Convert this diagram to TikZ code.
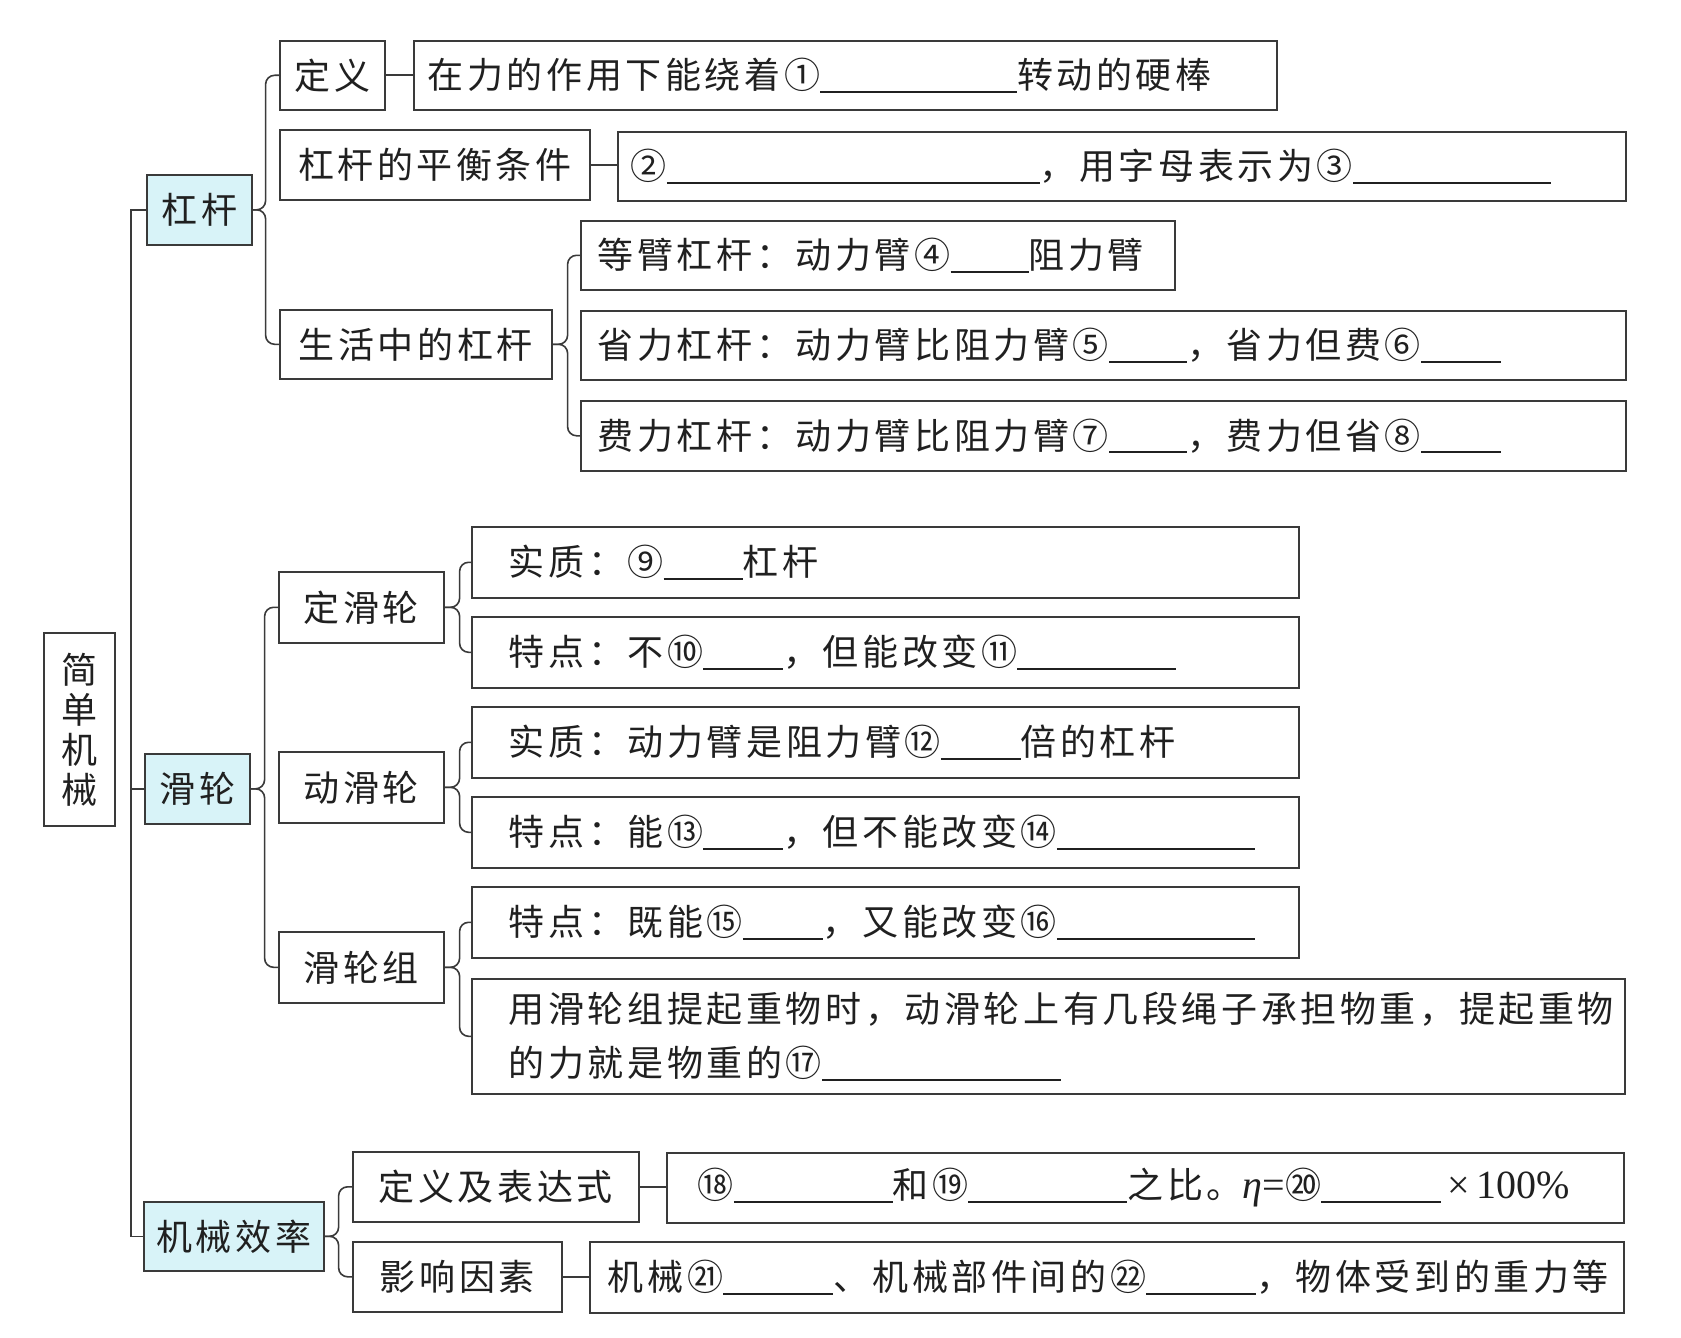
\documentclass[tikz,border=0pt]{standalone}
\usepackage{fontspec}
\newfontfamily\cjk[LetterSpace=10]{Noto Sans CJK SC}
\newfontfamily\tms{Liberation Serif}
\usetikzlibrary{calc}
\definecolor{lc}{HTML}{3A3A3A}
\definecolor{tc}{HTML}{202020}
\definecolor{cy}{HTML}{D8F3F8}
\newcommand{\fillblank}[1]{\rule[-4pt]{#1pt}{1.6pt}}
\newcommand{\tmsx}[1]{{\tms\fontsize{40}{40}\selectfont #1}}
\tikzset{
  bx/.style={draw=lc, line width=1.6pt, fill=white, inner sep=0pt, anchor=north west,
    text=tc, font=\cjk\fontsize{36}{40}\selectfont},
  hub/.style={bx, fill=cy},
  lt/.style={align=left, text width=#1},
  conn/.style={draw=lc, line width=1.6pt},
  brace/.style={conn, rounded corners=9pt}
}
\begin{document}
\begin{tikzpicture}[x=1pt,y=-1pt]
\useasboundingbox[fill=white] (0,0) rectangle (1681,1338);
% root
\node[bx, minimum width=71, minimum height=193, align=center] (jd) at (43,632) {简\\单\\机\\械};
% hubs
\node[hub, minimum width=105, minimum height=70] (gg) at (146,174) {杠杆};
\node[hub, minimum width=105, minimum height=70] (hl) at (144,753) {滑轮};
\node[hub, minimum width=180, minimum height=69] (jx) at (143,1201) {机械效率};
% level 2 labels
\node[bx, minimum width=105, minimum height=69] (dy) at (279,40) {定义};
\node[bx, minimum width=310, minimum height=70] (ph) at (279,129) {杠杆的平衡条件};
\node[bx, minimum width=272, minimum height=69] (sh) at (279,309) {生活中的杠杆};
\node[bx, minimum width=165, minimum height=71] (dh) at (278,571) {定滑轮};
\node[bx, minimum width=165, minimum height=71] (dd) at (278,751) {动滑轮};
\node[bx, minimum width=165, minimum height=71] (zu) at (278,931) {滑轮组};
\node[bx, minimum width=286, minimum height=70] (dyb) at (352,1151) {定义及表达式};
\node[bx, minimum width=209, minimum height=70] (yx) at (352,1241) {影响因素};
% content boxes
\node[bx, lt=835, minimum width=863, minimum height=69] (dyt) at (413,40)
  {在力的作用下能绕着①\fillblank{197}转动的硬棒};
\node[bx, lt=982, minimum width=1008, minimum height=69] (pht) at (617,131)
  {②\fillblank{373}，用字母表示为③\fillblank{198}};
\node[bx, lt=560, minimum width=594, minimum height=69] (db) at (580,220)
  {等臂杠杆：动力臂④\fillblank{78}阻力臂};
\node[bx, lt=1011, minimum width=1045, minimum height=69] (sl) at (580,310)
  {省力杠杆：动力臂比阻力臂⑤\fillblank{78}，省力但费⑥\fillblank{80}};
\node[bx, lt=1011, minimum width=1045, minimum height=70] (fl) at (580,400)
  {费力杠杆：动力臂比阻力臂⑦\fillblank{78}，费力但省⑧\fillblank{80}};
\node[bx, lt=787, minimum width=827, minimum height=71] (dh1) at (471,526)
  {\hspace*{17pt}实质：⑨\fillblank{79}杠杆};
\node[bx, lt=787, minimum width=827, minimum height=71] (dh2) at (471,616)
  {\hspace*{17pt}特点：不⑩\fillblank{80}，但能改变⑪\fillblank{159}};
\node[bx, lt=787, minimum width=827, minimum height=71] (dd1) at (471,706)
  {\hspace*{17pt}实质：动力臂是阻力臂⑫\fillblank{80}倍的杠杆};
\node[bx, lt=787, minimum width=827, minimum height=71] (dd2) at (471,796)
  {\hspace*{17pt}特点：能⑬\fillblank{80}，但不能改变⑭\fillblank{198}};
\node[bx, lt=787, minimum width=827, minimum height=71] (zu1) at (471,886)
  {\hspace*{17pt}特点：既能⑮\fillblank{80}，又能改变⑯\fillblank{198}};
\node[bx, lt=1121, minimum width=1153, minimum height=115, font=\cjk\fontsize{36}{54}\selectfont] (zu2) at (471,978)
  {\hspace*{21pt}用滑轮组提起重物时，动滑轮上有几段绳子承担物重，提起重物\\
   \hspace*{21pt}的力就是物重的⑰\fillblank{239}};
\node[bx, lt=927, minimum width=957, minimum height=70] (dybt) at (666,1152)
  {\hspace*{16pt}⑱\fillblank{159}和⑲\fillblank{159}之比。\tmsx{\itshape η}\tmsx{=}⑳\fillblank{120}\,\tmsx{×\,100\%}};
\node[bx, lt=1014, minimum width=1034, minimum height=71] (yxt) at (589,1241)
  {\hspace*{8pt}机械㉑\fillblank{110}、机械部件间的㉒\fillblank{110}，物体受到的重力等};
% trunk
\coordinate (trunk) at (131,0);
\draw[conn] (gg.west) -| (trunk |- jx.west) -- (jx.west);
\draw[conn] (hl.west) -- (trunk |- hl.west);
% braces
\draw[brace] (dy.west) -| ($(gg.east)+(13,0)$) -- (gg.east);
\draw[brace] (sh.west) -| ($(gg.east)+(13,0)$) -- (gg.east);
\draw[brace] (db.west) -| ($(sh.east)+(15,0)$) -- (sh.east);
\draw[brace] (fl.west) -| ($(sh.east)+(15,0)$) -- (sh.east);
\draw[brace] (dh.west) -| ($(hl.east)+(14,0)$) -- (hl.east);
\draw[brace] (zu.west) -| ($(hl.east)+(14,0)$) -- (hl.east);
\draw[brace] (dh1.west) -| ($(dh.east)+(15,0)$) -- (dh.east);
\draw[brace] (dh2.west) -| ($(dh.east)+(15,0)$) -- (dh.east);
\draw[brace] (dd1.west) -| ($(dd.east)+(15,0)$) -- (dd.east);
\draw[brace] (dd2.west) -| ($(dd.east)+(15,0)$) -- (dd.east);
\draw[brace] (zu1.west) -| ($(zu.east)+(15,0)$) -- (zu.east);
\draw[brace] (zu2.west) -| ($(zu.east)+(15,0)$) -- (zu.east);
\draw[brace] (dyb.west) -| ($(jx.east)+(14,0)$) -- (jx.east);
\draw[brace] (yx.west) -| ($(jx.east)+(14,0)$) -- (jx.east);
% single links
\draw[conn] (dy.east) -- (dy.east -| dyt.west);
\draw[conn] (ph.east) -- (ph.east -| pht.west);
\draw[conn] (dyb.east) -- (dyb.east -| dybt.west);
\draw[conn] (yx.east) -- (yx.east -| yxt.west);
\end{tikzpicture}
\end{document}
